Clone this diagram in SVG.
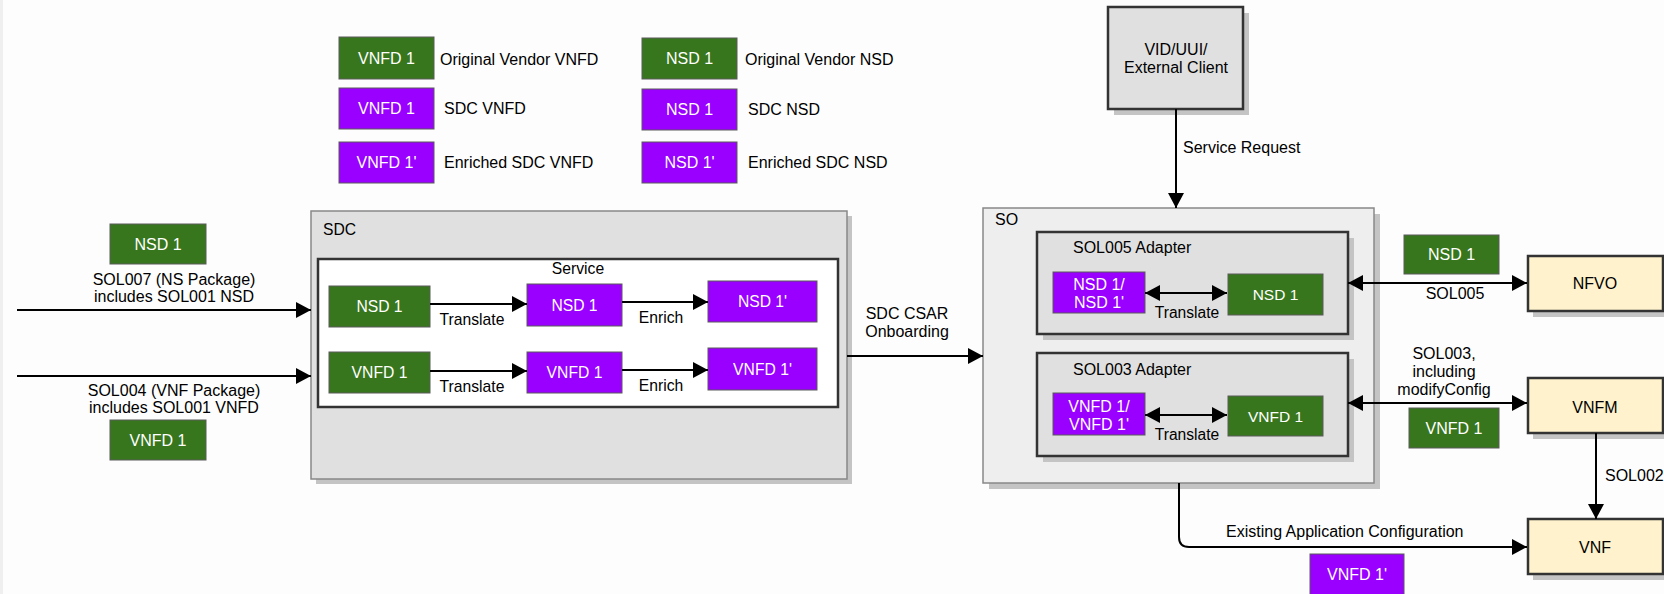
<svg xmlns="http://www.w3.org/2000/svg" width="1664" height="594" viewBox="0 0 1664 594">
<defs>
<style>
text{font-family:"Liberation Sans",Arial,Helvetica,sans-serif;fill:#000}
.g{fill:#38761d;stroke:#5a5a5a;stroke-width:1}
.p{fill:#9900ff;stroke:#5a5a5a;stroke-width:1}
.w{fill:#fff;text-anchor:middle}
.s{font-size:15.7px}
.m{font-size:16px}
.c{text-anchor:middle}
.ln{fill:none;stroke:#000;stroke-width:2}
.sh{fill:#c4c4c4}
.cont{fill:#e0e0e0;stroke:#333;stroke-width:2.5}
.beige{fill:#fff2cc;stroke:#333;stroke-width:2.5}
</style>
<marker id="ah" markerUnits="userSpaceOnUse" markerWidth="16" markerHeight="17" refX="15" refY="8" orient="auto-start-reverse">
<path d="M0,0 L15,8 L0,16 z" fill="#000"/>
</marker>
</defs>
<rect x="0" y="0" width="1664" height="594" fill="#fdfdfd"/>
<rect x="0" y="0" width="3" height="594" fill="#efefef"/>

<!-- Legend -->
<g id="legend">
<g id="leg-vnfd-orig"><rect class="g" x="339" y="37" width="95" height="42"/><text class="w m" x="386.5" y="63.5">VNFD 1</text><text class="m" x="440" y="65">Original Vendor VNFD</text></g>
<g id="leg-nsd-orig"><rect class="g" x="642" y="38" width="95" height="41"/><text class="w m" x="689.5" y="63.5">NSD 1</text><text class="m" x="745" y="65">Original Vendor NSD</text></g>
<g id="leg-vnfd-sdc"><rect class="p" x="339" y="88" width="95" height="41"/><text class="w m" x="386.5" y="114">VNFD 1</text><text class="m" x="444" y="114">SDC VNFD</text></g>
<g id="leg-nsd-sdc"><rect class="p" x="642" y="89" width="95" height="41"/><text class="w m" x="689.5" y="115">NSD 1</text><text class="m" x="748" y="115">SDC NSD</text></g>
<g id="leg-vnfd-enr"><rect class="p" x="339" y="142" width="95" height="41"/><text class="w m" x="386.5" y="168">VNFD 1'</text><text class="m" x="444" y="168">Enriched SDC VNFD</text></g>
<g id="leg-nsd-enr"><rect class="p" x="642" y="142" width="95" height="41"/><text class="w m" x="689.5" y="168">NSD 1'</text><text class="m" x="748" y="168">Enriched SDC NSD</text></g>
</g>

<!-- Left inputs -->
<g id="in-nsd"><rect class="g" x="110" y="224" width="96" height="40"/><text class="w m" x="158" y="249.5">NSD 1</text></g>
<g id="in-vnfd"><rect class="g" x="110" y="420" width="96" height="40"/><text class="w m" x="158" y="445.5">VNFD 1</text></g>

<!-- SDC -->
<g id="sdc">
<rect class="sh" x="316" y="216" width="536" height="268"/>
<rect x="311" y="211" width="536" height="268" fill="#e0e0e0" stroke="#888" stroke-width="1.5"/>
<text class="s" x="323" y="235">SDC</text>
</g>
<g id="service">
<rect x="318" y="259" width="520" height="148" fill="#fff" stroke="#333" stroke-width="2.5"/>
<text class="s c" x="578" y="274">Service</text>
</g>
<g id="sdc-nsd-g"><rect class="g" x="329" y="286" width="101" height="41"/><text class="w s" x="379.5" y="312">NSD 1</text></g>
<g id="sdc-nsd-p"><rect class="p" x="527" y="284" width="95" height="42"/><text class="w s" x="574.5" y="310.5">NSD 1</text></g>
<g id="sdc-nsd-e"><rect class="p" x="708" y="281" width="109" height="41"/><text class="w s" x="762.5" y="307">NSD 1'</text></g>
<g id="sdc-vnfd-g"><rect class="g" x="329" y="352" width="101" height="41"/><text class="w s" x="379.5" y="378">VNFD 1</text></g>
<g id="sdc-vnfd-p"><rect class="p" x="527" y="352" width="95" height="41"/><text class="w s" x="574.5" y="378">VNFD 1</text></g>
<g id="sdc-vnfd-e"><rect class="p" x="708" y="348" width="109" height="42"/><text class="w s" x="762.5" y="374.5">VNFD 1'</text></g>

<!-- VID -->
<g id="vid">
<rect class="sh" x="1114" y="13" width="135" height="102" fill="#bcbcbc"/>
<rect class="cont" x="1108" y="7" width="135" height="102"/>
<text class="m c" x="1176" y="55">VID/UUI/</text>
<text class="m c" x="1176" y="72.5">External Client</text>
</g>

<!-- SO -->
<g id="so">
<rect class="sh" x="989" y="214" width="391" height="275" fill="#cacaca"/>
<rect x="983" y="208" width="391" height="275" fill="#eeeeee" stroke="#888" stroke-width="1.5"/>
<text class="m" x="995" y="225">SO</text>
</g>
<g id="sol005-adapter">
<rect class="sh" x="1043" y="238" width="311" height="102" fill="#b8b8b8"/>
<rect class="cont" x="1037" y="232" width="311" height="102"/>
<text class="m" x="1073" y="253">SOL005 Adapter</text>
</g>
<g id="a5-nsd-p"><rect class="p" x="1053" y="272" width="92" height="41"/><text class="w m" x="1099" y="290">NSD 1/</text><text class="w m" x="1099" y="308">NSD 1'</text></g>
<g id="a5-nsd-g"><rect class="g" x="1228" y="274" width="95" height="41"/><text class="w" x="1275.5" y="300" font-size="15.5">NSD 1</text></g>
<g id="sol003-adapter">
<rect class="sh" x="1043" y="359" width="311" height="103" fill="#b8b8b8"/>
<rect class="cont" x="1037" y="353" width="311" height="103"/>
<text class="m" x="1073" y="375">SOL003 Adapter</text>
</g>
<g id="a3-vnfd-p"><rect class="p" x="1053" y="393" width="92" height="42"/><text class="w m" x="1099" y="411.5">VNFD 1/</text><text class="w m" x="1099" y="430">VNFD 1'</text></g>
<g id="a3-vnfd-g"><rect class="g" x="1228" y="396" width="95" height="40"/><text class="w" x="1275.5" y="421.5" font-size="15.5">VNFD 1</text></g>

<!-- Right side -->
<g id="nfvo"><rect class="sh" x="1533" y="262" width="135" height="55" fill="#c8c8c8"/><rect class="beige" x="1528" y="256" width="135" height="55"/><text class="m c" x="1595" y="289">NFVO</text></g>
<g id="vnfm"><rect class="sh" x="1533" y="384" width="135" height="55" fill="#c8c8c8"/><rect class="beige" x="1528" y="378" width="135" height="55"/><text class="m c" x="1595" y="413">VNFM</text></g>
<g id="vnf"><rect class="sh" x="1533" y="525" width="135" height="55" fill="#c8c8c8"/><rect class="beige" x="1528" y="519" width="135" height="55"/><text class="m c" x="1595" y="553">VNF</text></g>
<g id="r-nsd"><rect class="g" x="1404" y="235" width="95" height="39"/><text class="w m" x="1451.5" y="260">NSD 1</text></g>
<g id="r-vnfd"><rect class="g" x="1409" y="408" width="90" height="40"/><text class="w m" x="1454" y="433.5">VNFD 1</text></g>
<g id="b-vnfd-e"><rect class="p" x="1310" y="554" width="94" height="42"/><text class="w m" x="1357" y="580">VNFD 1'</text></g>

<!-- Connectors -->
<g id="connectors">
<line class="ln" x1="17" y1="310" x2="311" y2="310" marker-end="url(#ah)"/>
<line class="ln" x1="17" y1="376" x2="311" y2="376" marker-end="url(#ah)"/>
<line class="ln" x1="430" y1="304" x2="527" y2="304" marker-end="url(#ah)"/>
<line class="ln" x1="622" y1="302" x2="708" y2="302" marker-end="url(#ah)"/>
<line class="ln" x1="430" y1="371" x2="527" y2="371" marker-end="url(#ah)"/>
<line class="ln" x1="622" y1="370" x2="708" y2="370" marker-end="url(#ah)"/>
<line class="ln" x1="847" y1="356" x2="983" y2="356" marker-end="url(#ah)"/>
<line class="ln" x1="1176" y1="109" x2="1176" y2="208" marker-end="url(#ah)"/>
<line class="ln" x1="1145" y1="293" x2="1227" y2="293" marker-start="url(#ah)" marker-end="url(#ah)"/>
<line class="ln" x1="1145" y1="415" x2="1227" y2="415" marker-start="url(#ah)" marker-end="url(#ah)"/>
<line class="ln" x1="1348" y1="283" x2="1527" y2="283" marker-start="url(#ah)" marker-end="url(#ah)"/>
<line class="ln" x1="1348" y1="403" x2="1527" y2="403" marker-start="url(#ah)" marker-end="url(#ah)"/>
<line class="ln" x1="1596" y1="433" x2="1596" y2="519" marker-end="url(#ah)"/>
<path class="ln" d="M1179,483 V537 Q1179,547 1189,547 H1527" marker-end="url(#ah)"/>
</g>

<!-- Connector labels -->
<g id="labels">
<text class="m c" x="174" y="285">SOL007 (NS Package)</text>
<text class="m c" x="174" y="302">includes SOL001 NSD</text>
<text class="m c" x="174" y="396">SOL004 (VNF Package)</text>
<text class="m c" x="174" y="413">includes SOL001 VNFD</text>
<text class="s c" x="472" y="325">Translate</text>
<text class="s c" x="661" y="323">Enrich</text>
<text class="s c" x="472" y="392">Translate</text>
<text class="s c" x="661" y="391">Enrich</text>
<text class="m c" x="907" y="319">SDC CSAR</text>
<text class="m c" x="907" y="337">Onboarding</text>
<text class="m" x="1183" y="153">Service Request</text>
<text class="c" x="1187" y="318" font-size="15.6">Translate</text>
<text class="c" x="1187" y="440" font-size="15.6">Translate</text>
<text class="m c" x="1455" y="299">SOL005</text>
<text class="m c" x="1444" y="359">SOL003,</text>
<text class="m c" x="1444" y="377">including</text>
<text class="m c" x="1444" y="395">modifyConfig</text>
<text class="m" x="1605" y="481">SOL002</text>
<text class="m" x="1226" y="537">Existing Application Configuration</text>
</g>
</svg>
